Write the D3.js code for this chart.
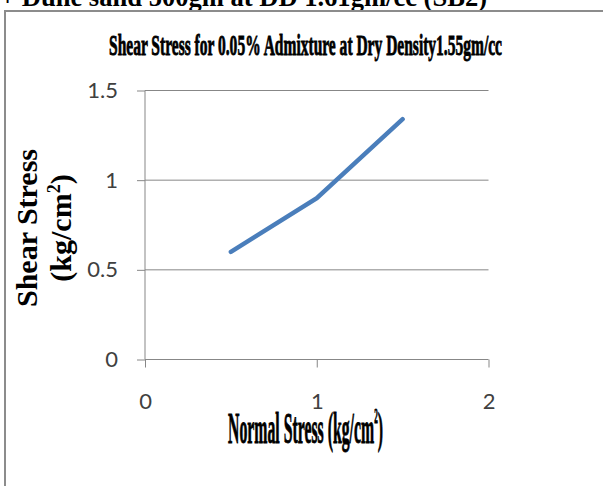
<!DOCTYPE html>
<html><head><meta charset="utf-8">
<script src="https://cdn.jsdelivr.net/npm/d3@7"></script>
<style>body{margin:0;background:#fff;overflow:hidden}svg{display:block}</style>
</head><body>
<script>
const normalStress = [0.5, 1.0, 1.5];
const shearStress = [0.6, 0.9, 1.34];
const xTicks = [0, 1, 2];
const yTicks = [0, 0.5, 1, 1.5];
const chartTitle = "Shear Stress for 0.05% Admixture at Dry Density1.55gm/cc";
const pageCaption = "+ Dune sand 500gm at DD 1.61gm/cc (SB2)";

const W = 603, H = 486;
const svg = d3.select("body").append("svg").attr("width", W).attr("height", H);

// caption above the box (cut off at top)
svg.append("text").attr("x", 0).attr("y", 6)
  .attr("font-family", "Liberation Serif").attr("font-weight", "bold").attr("font-size", 28)
  .attr("textLength", 487).attr("lengthAdjust", "spacingAndGlyphs")
  .attr("fill", "#000").text(pageCaption);

// chart box
svg.append("rect").attr("x", 5).attr("y", 11).attr("width", 620).attr("height", 500)
  .attr("fill", "#fff").attr("stroke", "#8c8c8c").attr("stroke-width", 2);

const x = d3.scaleLinear().domain([0, 2]).range([145, 488.5]);
const y = d3.scaleLinear().domain([0, 1.5]).range([359.5, 90.5]);

// gridlines
svg.append("g").selectAll("line").data(yTicks.filter(d => d > 0)).join("line")
  .attr("x1", x(0)).attr("x2", x(2)).attr("y1", d => y(d)).attr("y2", d => y(d))
  .attr("stroke", "#878787").attr("stroke-width", 1);

// axes
const ya = svg.append("g").attr("transform", `translate(${x(0)},0)`)
  .call(d3.axisLeft(y).tickValues(yTicks).tickSize(8).tickPadding(19).tickFormat(d3.format("")));
const xa = svg.append("g").attr("transform", `translate(0,${y(0)})`)
  .call(d3.axisBottom(x).tickValues(xTicks).tickSize(8).tickPadding(26).tickFormat(d3.format("")));
[ya, xa].forEach(a => {
  a.select(".domain").attr("stroke", "#878787");
  a.selectAll(".tick line").attr("stroke", "#878787");
  a.selectAll("text").attr("font-family", "Lato, 'Open Sans', sans-serif").attr("font-size", 22).attr("fill", "#404040");
});
xa.select(".domain").attr("d", `M${x(0)},0H${x(2)}`);
ya.select(".domain").attr("d", `M0,${y(0)}V${y(1.5)}`);

// data line
const pts = normalStress.map((v, i) => [v, shearStress[i]]);
svg.append("path").datum(pts)
  .attr("d", d3.line().x(d => x(d[0])).y(d => y(d[1])))
  .attr("fill", "none").attr("stroke", "#4a7ebb").attr("stroke-width", 4.5).attr("stroke-linecap", "round");

// chart title (condensed, heavy)
svg.append("text").attr("x", 109).attr("y", 55)
  .attr("font-family", "Liberation Serif").attr("font-weight", "bold").attr("font-size", 30)
  .attr("textLength", 393).attr("lengthAdjust", "spacingAndGlyphs")
  .attr("fill", "#000").attr("stroke", "#000").attr("stroke-width", 0.9)
  .text(chartTitle);

// x axis title (condensed, heavy)
const xt = svg.append("text").attr("x", 228).attr("y", 443)
  .attr("font-family", "Liberation Serif").attr("font-weight", "bold").attr("font-size", 44)
  .attr("textLength", 155).attr("lengthAdjust", "spacingAndGlyphs")
  .attr("fill", "#000").attr("stroke", "#000").attr("stroke-width", 0.9);
xt.append("tspan").text("Normal Stress (kg/cm");
xt.append("tspan").attr("dy", -20).attr("font-size", 20).text("2");
xt.append("tspan").attr("dy", 20).text(")");

// y axis title
const yt = svg.append("text").attr("transform", "translate(0,228) rotate(-90)")
  .attr("font-family", "Liberation Serif").attr("font-weight", "bold").attr("font-size", 30)
  .attr("text-anchor", "middle").attr("fill", "#000");
yt.append("tspan").attr("x", 0).attr("y", 37).text("Shear Stress");
const l2 = yt.append("tspan").attr("x", 0).attr("y", 71);
l2.append("tspan").text("(kg/cm");
l2.append("tspan").attr("dy", -11).attr("font-size", 18).text("2");
l2.append("tspan").attr("dy", 11).text(")");
</script>
</body></html>
